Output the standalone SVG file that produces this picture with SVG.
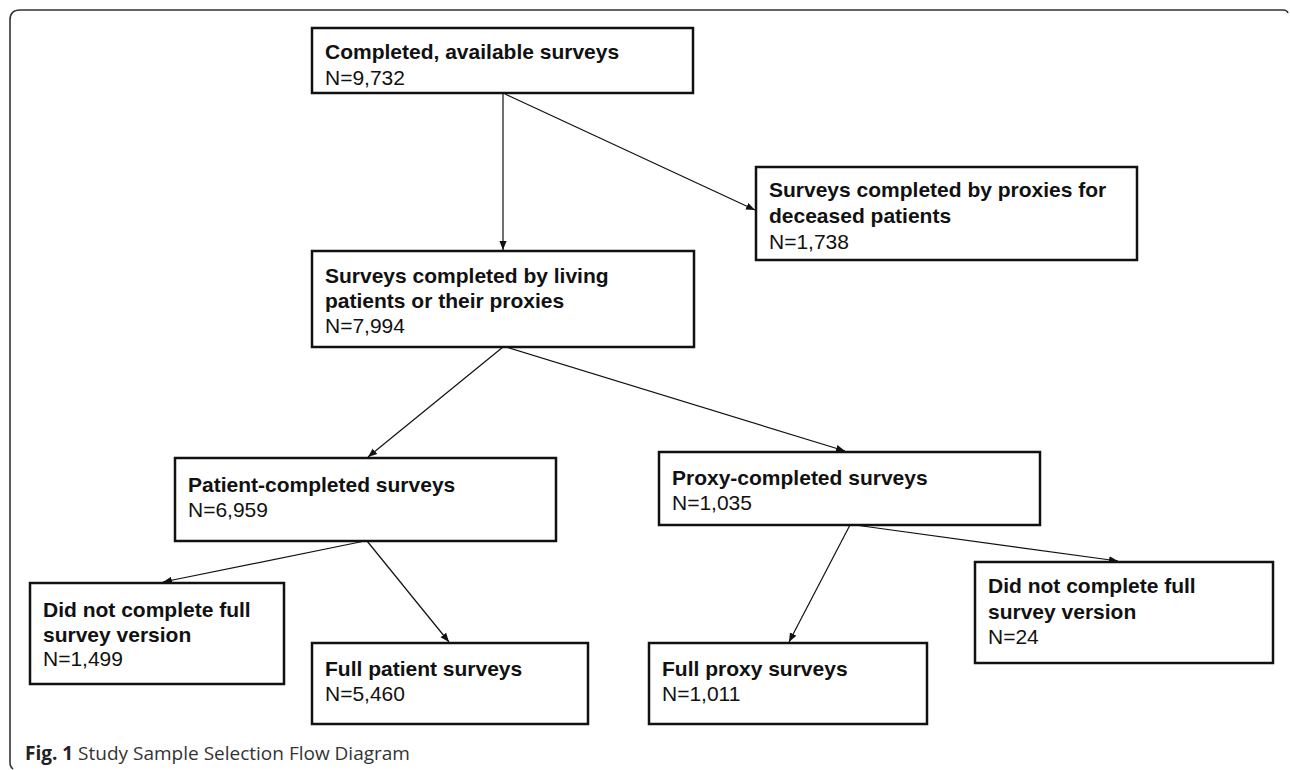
<svg xmlns="http://www.w3.org/2000/svg" width="1290" height="770" viewBox="0 0 1290 770">
<defs>
<style>
.box{fill:#fff;stroke:#111;stroke-width:2.5}
.t{font-family:"Liberation Sans",Arial,sans-serif;font-size:21px;fill:#111}
.b{font-weight:bold}
.cn{stroke:#111;stroke-width:1.2;fill:none;marker-end:url(#ah)}
.frame{fill:none;stroke:#333;stroke-width:1.6}
.cap{font-family:"Open Sans","Noto Sans",sans-serif;font-size:19px;fill:#333}
</style>
<marker id="ah" viewBox="0 0 10 10" refX="10" refY="5" markerWidth="9" markerHeight="9" markerUnits="userSpaceOnUse" orient="auto">
<path d="M0,1 L10,5 L0,9 Z" fill="#111"/>
</marker>
</defs>
<rect width="1290" height="770" fill="#fff"/>
<path class="frame" d="M13,769 Q10,767 10,762 L10,20 Q10,10 20,10 L1283,10 Q1287,10 1288,13"/>
<g id="connectors">
<line class="cn" x1="503" y1="94" x2="503" y2="250"/>
<line class="cn" x1="505" y1="94" x2="755" y2="210"/>
<line class="cn" x1="503" y1="347" x2="368" y2="457"/>
<line class="cn" x1="506" y1="347" x2="845" y2="451"/>
<line class="cn" x1="365" y1="541" x2="163" y2="582"/>
<line class="cn" x1="367" y1="541" x2="449" y2="642"/>
<line class="cn" x1="850" y1="525" x2="789" y2="642"/>
<line class="cn" x1="855" y1="525" x2="1118" y2="561"/>
</g>
<g id="n-all">
<rect class="box" x="312" y="28" width="381" height="65"/>
<text class="t b" x="325" y="59">Completed, available surveys</text>
<text class="t" x="325" y="85">N=9,732</text>
</g>
<g id="n-deceased">
<rect class="box" x="756" y="167" width="381" height="93"/>
<text class="t b" x="769" y="197">Surveys completed by proxies for</text>
<text class="t b" x="769" y="223">deceased patients</text>
<text class="t" x="769" y="249">N=1,738</text>
</g>
<g id="n-living">
<rect class="box" x="312" y="251" width="382" height="96"/>
<text class="t b" x="325" y="283">Surveys completed by living</text>
<text class="t b" x="325" y="308">patients or their proxies</text>
<text class="t" x="325" y="333">N=7,994</text>
</g>
<g id="n-patient">
<rect class="box" x="175" y="458" width="381" height="83"/>
<text class="t b" x="188" y="492">Patient-completed surveys</text>
<text class="t" x="188" y="517">N=6,959</text>
</g>
<g id="n-proxy">
<rect class="box" x="659" y="452" width="381" height="73"/>
<text class="t b" x="672" y="485">Proxy-completed surveys</text>
<text class="t" x="672" y="510">N=1,035</text>
</g>
<g id="n-dnc-left">
<rect class="box" x="30" y="583" width="254" height="101"/>
<text class="t b" x="43" y="617">Did not complete full</text>
<text class="t b" x="43" y="642">survey version</text>
<text class="t" x="43" y="666">N=1,499</text>
</g>
<g id="n-full-patient">
<rect class="box" x="312" y="643" width="276" height="81"/>
<text class="t b" x="325" y="676">Full patient surveys</text>
<text class="t" x="325" y="701">N=5,460</text>
</g>
<g id="n-full-proxy">
<rect class="box" x="649" y="643" width="278" height="81"/>
<text class="t b" x="662" y="676">Full proxy surveys</text>
<text class="t" x="662" y="701">N=1,011</text>
</g>
<g id="n-dnc-right">
<rect class="box" x="975" y="562" width="298" height="101"/>
<text class="t b" x="988" y="593">Did not complete full</text>
<text class="t b" x="988" y="619">survey version</text>
<text class="t" x="988" y="644">N=24</text>
</g>
<text class="cap" x="25" y="760"><tspan font-weight="bold" fill="#222">Fig. 1</tspan> Study Sample Selection Flow Diagram</text>
</svg>
